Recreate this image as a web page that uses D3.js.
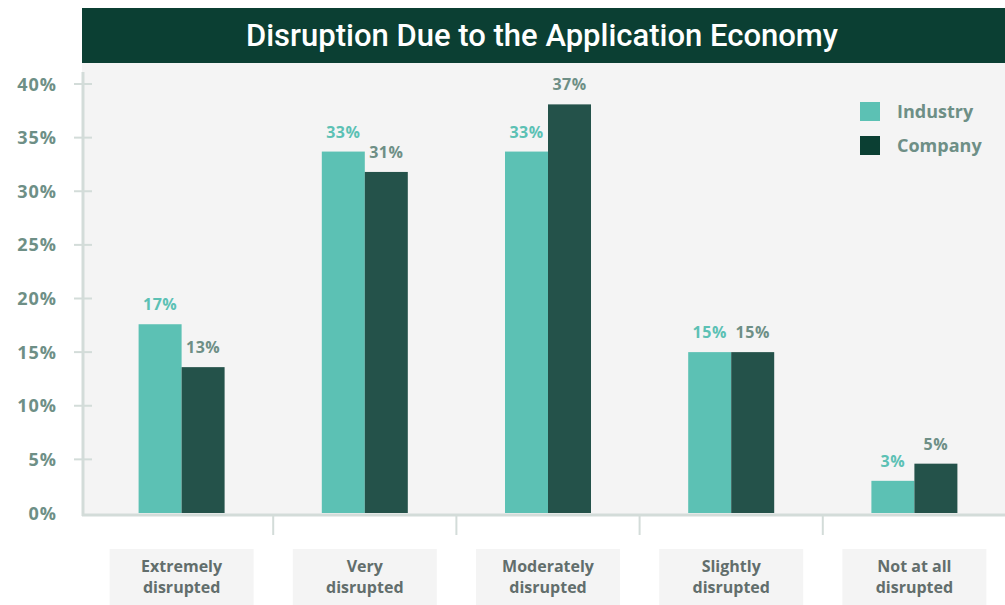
<!DOCTYPE html>
<html>
<head>
<meta charset="utf-8">
<script src="https://cdn.jsdelivr.net/npm/d3@7"></script>
<style>
	html, body { margin: 0; padding: 0; background: #fff; }
	svg { display: block; font-family: "Open Sans", "Noto Sans", sans-serif; }
</style>
</head>
<body>
<div id="chart"></div>
<script>
'use strict'
// chart data
var title = 'Disruption Due to the Application Economy';
var categories = ['Extremely disrupted', 'Very disrupted', 'Moderately disrupted', 'Slightly disrupted', 'Not at all disrupted'];
var categoryLines = [['Extremely', 'disrupted'], ['Very', 'disrupted'], ['Moderately', 'disrupted'], ['Slightly', 'disrupted'], ['Not at all', 'disrupted']];
var seriesNames = ['Industry', 'Company'];
var industry = [17.6, 33.7, 33.7, 15.0, 3.0];
var company = [13.6, 31.8, 38.1, 15.0, 4.6];
var industryLabels = ['17%', '33%', '33%', '15%', '3%'];
var companyLabels = ['13%', '31%', '37%', '15%', '5%'];
var yTicks = [0, 5, 10, 15, 20, 25, 30, 35, 40];

var W = 1005, H = 605;
var colors = {industry: '#5cc1b4', company: '#24524a', legendCompany: '#0b3f33', banner: '#0b3f33', plotBg: '#f4f4f4', axis: '#d3dcd9', tickText: '#6e8f86', catText: '#626e6c'};

var svg = d3.select('#chart').append('svg')
	.attr('width', W).attr('height', H);

// plot area
var plot = {left: 82, top: 63, right: W, bottom: 515};
svg.append('rect')
	.attr('x', plot.left).attr('y', plot.top)
	.attr('width', plot.right - plot.left).attr('height', plot.bottom - plot.top)
	.attr('fill', colors.plotBg);

// title banner
svg.append('rect')
	.attr('x', plot.left).attr('y', 8)
	.attr('width', W - plot.left).attr('height', 55)
	.attr('fill', colors.banner);
svg.append('text')
	.attr('x', 542).attr('y', 46)
	.attr('text-anchor', 'middle')
	.attr('fill', '#fff')
	.attr('font-family', 'Roboto, sans-serif')
	.attr('font-size', 31).attr('font-weight', 500)
	.text(title);

var y = d3.scaleLinear().domain([0, 40]).range([513, 84]);
var x = d3.scaleBand().domain(categories).range([90, 1006]);
var barW = 43;

// y axis
var yAxis = svg.append('g');
yAxis.append('line')
	.attr('x1', 83).attr('x2', 83).attr('y1', 72).attr('y2', 516)
	.attr('stroke', colors.axis).attr('stroke-width', 3);
yAxis.selectAll('line.tick').data(yTicks.slice(1)).enter().append('line')
	.attr('class', 'tick')
	.attr('x1', 74).attr('x2', 92)
	.attr('y1', function(d){ return y(d); }).attr('y2', function(d){ return y(d); })
	.attr('stroke', colors.axis).attr('stroke-width', 2);
yAxis.selectAll('text').data(yTicks).enter().append('text')
	.attr('x', 57).attr('y', function(d){ return y(d) + 6.5; })
	.attr('text-anchor', 'end')
	.attr('fill', colors.tickText)
	.attr('font-size', 18).attr('font-weight', 700)
	.attr('letter-spacing', 1)
	.text(function(d){ return d + '%'; });

// x axis with separators
svg.append('line')
	.attr('x1', 82).attr('x2', W).attr('y1', 515).attr('y2', 515)
	.attr('stroke', colors.axis).attr('stroke-width', 3);
svg.selectAll('line.sep').data(categories.slice(1)).enter().append('line')
	.attr('class', 'sep')
	.attr('x1', function(d){ return x(d); }).attr('x2', function(d){ return x(d); })
	.attr('y1', 515).attr('y2', 535)
	.attr('stroke', colors.axis).attr('stroke-width', 2);

// category label boxes
var cat = svg.selectAll('g.cat').data(categories).enter().append('g')
	.attr('class', 'cat')
	.attr('transform', function(d){ return 'translate(' + (x(d) + x.bandwidth() / 2) + ',0)'; });
cat.append('rect')
	.attr('x', -72).attr('y', 549).attr('width', 144).attr('height', 60)
	.attr('fill', colors.plotBg);
cat.each(function(d, i){
	d3.select(this).selectAll('text').data(categoryLines[i]).enter().append('text')
		.attr('y', function(t, j){ return 572 + j * 21; })
		.attr('text-anchor', 'middle')
		.attr('fill', colors.catText)
		.attr('font-size', 16).attr('font-weight', 700)
		.text(function(t){ return t; });
});

// bars
var groups = svg.selectAll('g.group').data(categories).enter().append('g')
	.attr('class', 'group')
	.attr('transform', function(d){ return 'translate(' + (x(d) + x.bandwidth() / 2) + ',0)'; });

groups.append('rect')
	.attr('x', -barW).attr('width', barW)
	.attr('y', function(d, i){ return y(industry[i]); })
	.attr('height', function(d, i){ return y(0) - y(industry[i]); })
	.attr('fill', colors.industry);
groups.append('rect')
	.attr('x', 0).attr('width', barW)
	.attr('y', function(d, i){ return y(company[i]); })
	.attr('height', function(d, i){ return y(0) - y(company[i]); })
	.attr('fill', colors.company);

groups.append('text')
	.attr('x', -barW / 2)
	.attr('y', function(d, i){ return y(industry[i]) - 14; })
	.attr('text-anchor', 'middle')
	.attr('fill', colors.industry)
	.attr('font-size', 16).attr('font-weight', 700)
	.attr('letter-spacing', 0.5)
	.text(function(d, i){ return industryLabels[i]; });
groups.append('text')
	.attr('x', barW / 2)
	.attr('y', function(d, i){ return y(company[i]) - 14; })
	.attr('text-anchor', 'middle')
	.attr('fill', colors.tickText)
	.attr('font-size', 16).attr('font-weight', 700)
	.attr('letter-spacing', 0.5)
	.text(function(d, i){ return companyLabels[i]; });

// legend
var legend = svg.selectAll('g.legend').data(seriesNames).enter().append('g')
	.attr('class', 'legend')
	.attr('transform', function(d, i){ return 'translate(860,' + (102 + i * 34) + ')'; });
legend.append('rect')
	.attr('width', 20).attr('height', 19)
	.attr('fill', function(d, i){ return i ? colors.legendCompany : colors.industry; });
legend.append('text')
	.attr('x', 37).attr('y', 16)
	.attr('fill', colors.tickText)
	.attr('font-size', 18).attr('font-weight', 700)
	.text(function(d){ return d; });
</script>
</body>
</html>
